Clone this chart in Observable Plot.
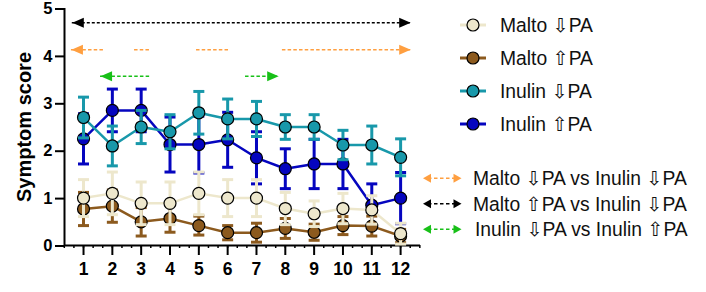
<!DOCTYPE html>
<html><head><meta charset="utf-8">
<script src="https://cdn.jsdelivr.net/npm/d3@7"></script>
<script src="https://cdn.jsdelivr.net/npm/@observablehq/plot@0.6"></script>
<style>
body{margin:0;background:#fff;}
#wrap{position:relative;width:706px;height:292px;font-family:"Liberation Sans","DejaVu Sans",Arial,sans-serif;}
#wrap svg{position:absolute;left:0;top:0;}
</style></head><body><div id="wrap"></div>
<script>
// ---- data ----
const days = [1,2,3,4,5,6,7,8,9,10,11,12];
const seriesNames = ["Malto ⇩PA","Malto ⇧PA","Inulin ⇩PA","Inulin ⇧PA"];
const seriesColors = ["#ede7cc","#8c5a1e","#1898aa","#0505bf"];
const maltoDownMean = [1.0,1.1,0.89,0.89,1.1,1.0,1.0,0.78,0.67,0.78,0.75,0.25];
const maltoDownSem  = [0.39,0.45,0.45,0.45,0.45,0.39,0.39,0.34,0.27,0.32,0.3,0.22];
const maltoUpMean   = [0.77,0.83,0.5,0.57,0.42,0.27,0.27,0.36,0.28,0.42,0.41,0.2];
const maltoUpSem    = [0.35,0.34,0.3,0.29,0.2,0.15,0.2,0.21,0.17,0.19,0.21,0.14];
const inulinDownMean= [2.7,2.1,2.5,2.4,2.8,2.67,2.67,2.5,2.5,2.12,2.12,1.86];
const inulinDownSem = [0.43,0.42,0.35,0.36,0.45,0.42,0.37,0.26,0.26,0.31,0.4,0.39];
const inulinUpMean  = [2.25,2.85,2.85,2.13,2.13,2.23,1.85,1.62,1.72,1.72,0.85,1.0];
const inulinUpSem   = [0.53,0.45,0.45,0.58,0.6,0.58,0.55,0.42,0.52,0.52,0.45,0.54];
const seriesMeans = [maltoDownMean, maltoUpMean, inulinDownMean, inulinUpMean];
const seriesSems  = [maltoDownSem, maltoUpSem, inulinDownSem, inulinUpSem];

const comparisons = ["Malto ⇩PA vs Inulin ⇩PA","Malto ⇧PA vs Inulin ⇩PA","Inulin ⇩PA vs Inulin ⇧PA"];
const comparisonColors = ["#ff9f40","#000000","#18c018"];
const comparisonLevels = [4.13, 4.7, 3.57];
const sigMaltoDownVsInulinDown = [[0.58,1.69],[2.77,3.3],[4.92,6.07],[7.9,12.35]];
const sigMaltoUpVsInulinDown   = [[0.61,12.35]];
const sigInulinDownVsInulinUp  = [[1.59,3.3],[6.62,7.77]];
const sigSegments = [sigMaltoDownVsInulinDown, sigMaltoUpVsInulinDown, sigInulinDownVsInulinUp];

const yTicks = [0,1,2,3,4,5];
const minorTicks = d3.range(1, 39).map(i => i/3);
const yLabel = "Symptom score";

// ---- symbols ----
const capSymbol = {draw(ctx, size){const s=Math.sqrt(size/Math.PI); ctx.moveTo(-s,0); ctx.lineTo(s,0);}};
const leftHead = {draw(ctx, size){const s=Math.sqrt(size/Math.PI); ctx.moveTo(0,0); ctx.lineTo(2.3*s,-s); ctx.lineTo(2.3*s,s); ctx.closePath();}};
const rightHead = {draw(ctx, size){const s=Math.sqrt(size/Math.PI); ctx.moveTo(0,0); ctx.lineTo(-2.3*s,-s); ctx.lineTo(-2.3*s,s); ctx.closePath();}};

// ---- marks ----
const marks = [];
marks.push(Plot.axisX(minorTicks, {tickSize:3, strokeWidth:1.5, tickFormat: () => "", label: null}));
marks.push(Plot.axisX(days, {tickSize:10, tickPadding:7, strokeWidth:2, fontSize:17.5, fontWeight:"bold", label:null}));
marks.push(Plot.axisY(yTicks, {tickSize:9, tickPadding:3, strokeWidth:2, fontSize:16.5, fontWeight:"bold", dy:0.5, label:null}));
marks.push(Plot.ruleY([0], {strokeWidth:2}));
marks.push(Plot.ruleX([0.34], {y1:0, y2:5, strokeWidth:2}));
marks.push(Plot.text([yLabel], {frameAnchor:"left", dx:-40, rotate:-90, fontSize:20, fontWeight:"bold", textAnchor:"middle"}));

// significance arrows
sigSegments.forEach((segs, i) => {
  const c = comparisonColors[i], lvl = comparisonLevels[i];
  marks.push(Plot.ruleY(segs, {y: () => lvl, x1: d => d[0], x2: d => d[1], stroke: c, strokeWidth: 1.6, strokeDasharray: i === 1 ? "3,2" : "3.5,2.2"}));
  marks.push(Plot.dot([segs[0]], {x: d => d[0], y: () => lvl, symbol: leftHead, r: 5, fill: c, stroke: "none"}));
  marks.push(Plot.dot([segs[segs.length-1]], {x: d => d[1], y: () => lvl, symbol: rightHead, r: 5, fill: c, stroke: "none"}));
});

// series, drawn last-to-first
[3,2,1,0].forEach(i => {
  const rows = days.map((d, j) => ({day: d, mean: seriesMeans[i][j], lo: Math.max(0, seriesMeans[i][j]-seriesSems[i][j]), hi: seriesMeans[i][j]+seriesSems[i][j]}));
  const c = seriesColors[i];
  marks.push(Plot.ruleX(rows, {x:"day", y1:"lo", y2:"hi", stroke:c, strokeWidth:3}));
  marks.push(Plot.dot(rows, {x:"day", y:"hi", symbol: capSymbol, r:5.5, fill:"none", stroke:c, strokeWidth:3}));
  marks.push(Plot.dot(rows, {x:"day", y:"lo", symbol: capSymbol, r:5.5, fill:"none", stroke:c, strokeWidth:3}));
  marks.push(Plot.line(rows, {x:"day", y:"mean", stroke:c, strokeWidth:2.5}));
  marks.push(Plot.dot(rows, {x:"day", y:"mean", r:6, fill:c, stroke:"#000", strokeWidth:1.2}));
});

const chart = Plot.plot({
  width: 706, height: 292,
  marginLeft: 64, marginRight: 286, marginTop: 8, marginBottom: 47,
  x: {domain: [0.34, 12.69]},
  y: {domain: [0, 5]},
  style: {fontFamily: '"Liberation Sans","DejaVu Sans",Arial,sans-serif', background: "transparent", color: "#000"},
  marks
});
const wrap = document.getElementById("wrap");
wrap.appendChild(chart);

// ---- legends ----
const lg = d3.select(wrap).append("svg").attr("width",706).attr("height",292)
  .style("font-family",'"Liberation Sans","DejaVu Sans",Arial,sans-serif');
seriesNames.forEach((name, i) => {
  const y = 25 + i*33;
  const g = lg.append("g");
  g.append("line").attr("x1",460).attr("x2",486).attr("y1",y).attr("y2",y).attr("stroke",seriesColors[i]).attr("stroke-width",3);
  g.append("circle").attr("cx",473).attr("cy",y).attr("r",6).attr("fill",seriesColors[i]).attr("stroke","#000").attr("stroke-width",1.2);
  g.append("text").attr("x",500).attr("y",y).attr("dy","0.35em").attr("font-size",19.3).attr("fill","#111").text(name);
});
comparisons.forEach((name, i) => {
  const y = 178.3 + i*25.5;
  const c = comparisonColors[i];
  const g = lg.append("g");
  g.append("line").attr("x1",428).attr("x2",456).attr("y1",y).attr("y2",y).attr("stroke",c).attr("stroke-width",1.6).attr("stroke-dasharray","3.5,2.5");
  g.append("path").attr("d",`M423,${y}L431,${y-4.5}L431,${y+4.5}Z`).attr("fill",c);
  g.append("path").attr("d",`M461.5,${y}L453.5,${y-4.5}L453.5,${y+4.5}Z`).attr("fill",c);
  g.append("text").attr("x",i === 2 ? 475 : 473).attr("y",y).attr("dy","0.35em").attr("font-size",19.3).attr("fill","#111").text(name);
});
</script></body></html>
